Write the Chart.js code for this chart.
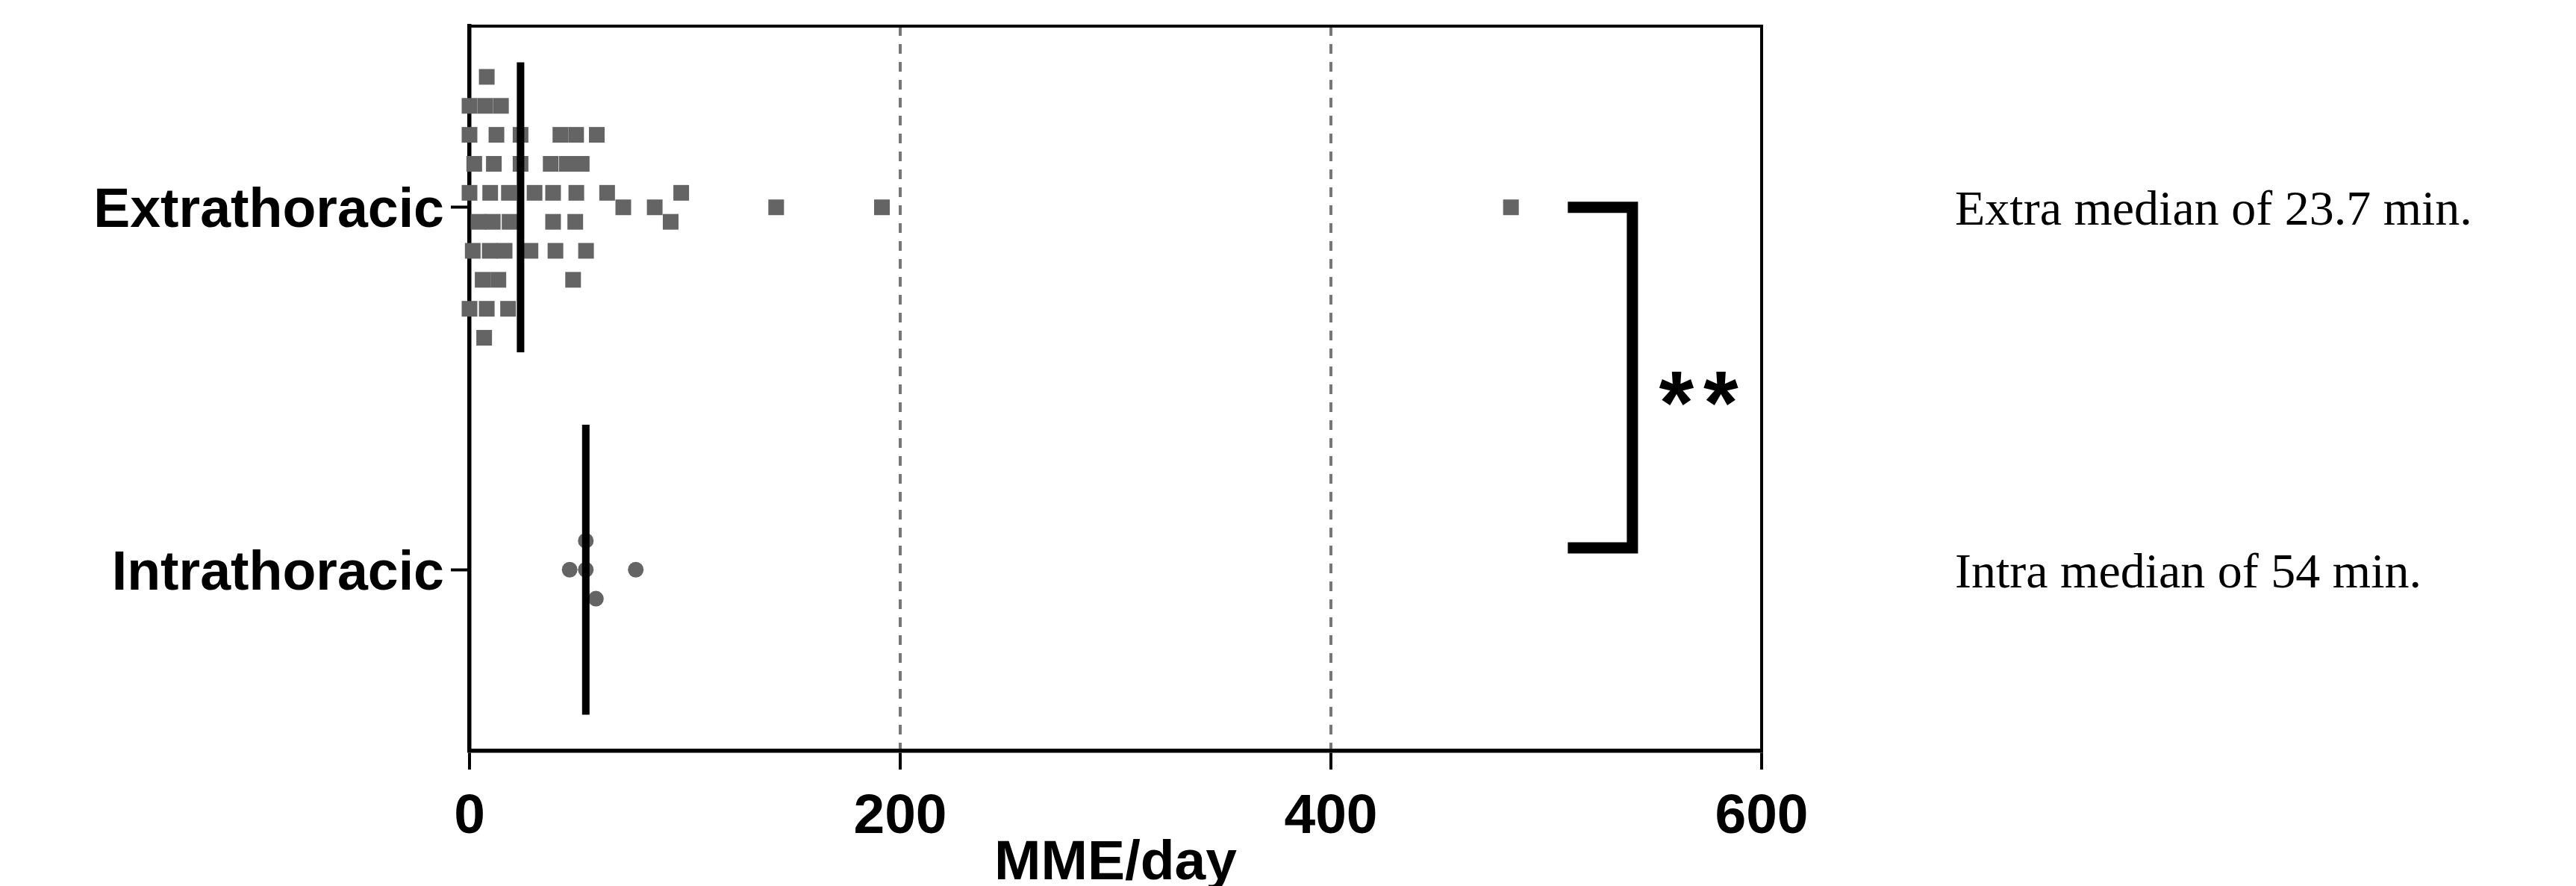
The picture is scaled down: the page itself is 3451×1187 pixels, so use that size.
<!DOCTYPE html>
<html>
<head>
<meta charset="utf-8">
<title>MME/day</title>
<script src="https://cdn.jsdelivr.net/npm/chart.js@4.4.1/dist/chart.umd.min.js"></script>
<style>
  html, body { margin: 0; padding: 0; background: #fff; }
</style>
</head>
<body>
<canvas id="mmeChart" width="3451" height="1187"></canvas>
<script>
const categories = ['Extrathoracic', 'Intrathoracic'];
const categoryY = [1.5, 0.5];
const xTicks = [0, 200, 400, 600];

// MME/day per patient, lane = row in the swarm (+ up, - down)
const extraValues = [
    8.0,
    0, 7.3, 14.6,
    0, 12.5, 23.7, 42.2, 49.5, 59.1,
    2.2, 11.3, 23.7, 37.7, 45.2, 52.1,
    0, 9.6, 18.3, 30.2, 38.8, 49.6, 63.9, 98.3,
    71.4, 86.0, 142.4, 191.5, 483.6,
    4.2, 10.8, 18.6, 38.8, 49.1, 93.4,
    1.5, 9.4, 16.3, 28.3, 39.9, 54.1,
    6.1, 13.4, 48.1,
    0, 8.0, 17.9,
    6.8
];
const extraLanes = [
    4.5,
    3.5, 3.5, 3.5,
    2.5, 2.5, 2.5, 2.5, 2.5, 2.5,
    1.5, 1.5, 1.5, 1.5, 1.5, 1.5,
    0.5, 0.5, 0.5, 0.5, 0.5, 0.5, 0.5, 0.5,
    0, 0, 0, 0, 0,
    -0.5, -0.5, -0.5, -0.5, -0.5, -0.5,
    -1.5, -1.5, -1.5, -1.5, -1.5, -1.5,
    -2.5, -2.5, -2.5,
    -3.5, -3.5, -3.5,
    -4.5
];
const intraValues = [54, 46.5, 54, 77.2, 58.7];
const intraLanes = [1, 0, 0, 0, -1];

const medians = [23.7, 54];
const medianNotes = ['Extra median of 23.7 min.', 'Intra median of 54 min.'];

// significance bracket between the groups
const bracketX = [510, 540];
const bracketY = [1.5, 0.56];
const significance = '**';
const sigPos = [573, 1.0];

const laneStep = 0.08;
const medianHalf = 0.4;
const dotColor = '#646464';
const sansFamily = '"Liberation Sans", Arial, Helvetica, sans-serif';
const boldFont = {family: sansFamily, size: 75, weight: 'bold'};

function swarm(values, lanes, cy) {
    return values.map((v, i) => ({x: v, y: cy + lanes[i] * laneStep}));
}

function medianLine(i) {
    return [
        {x: medians[i], y: categoryY[i] + medianHalf},
        {x: medians[i], y: categoryY[i] - medianHalf}
    ];
}

const bracketData = [
    {x: bracketX[0], y: bracketY[0]},
    {x: bracketX[1], y: bracketY[0]},
    {x: bracketX[1], y: bracketY[1]},
    {x: bracketX[0], y: bracketY[1]}
];

const notesPlugin = {
    id: 'notes',
    afterDraw(chart) {
        const {ctx, chartArea, scales} = chart;
        ctx.save();

        // top and right frame lines
        ctx.strokeStyle = '#000';
        ctx.lineWidth = 4;
        ctx.beginPath();
        ctx.moveTo(chartArea.left, chartArea.top);
        ctx.lineTo(chartArea.right, chartArea.top);
        ctx.lineTo(chartArea.right, chartArea.bottom);
        ctx.stroke();

        const sigSize = 120;
        ctx.fillStyle = '#000';
        ctx.font = 'bold ' + sigSize + 'px ' + sansFamily;
        ctx.letterSpacing = '13px';
        ctx.textAlign = 'center';
        ctx.textBaseline = 'alphabetic';
        ctx.fillText(significance, scales.x.getPixelForValue(sigPos[0]),
            scales.y.getPixelForValue(sigPos[1]) + 0.5 * sigSize);
        ctx.letterSpacing = '0px';

        ctx.font = '66px "Liberation Serif", "Times New Roman", serif';
        ctx.textAlign = 'left';
        ctx.textBaseline = 'middle';
        medianNotes.forEach((t, i) => {
            ctx.fillText(t, chartArea.right + 259, scales.y.getPixelForValue(categoryY[i]) + 6);
        });
        ctx.restore();
    }
};

new Chart(document.getElementById('mmeChart'), {
    type: 'scatter',
    data: {
        datasets: [
            {
                label: 'Extra median',
                data: medianLine(0),
                showLine: true,
                borderColor: '#000',
                borderWidth: 10,
                borderCapStyle: 'butt',
                pointRadius: 0,
                order: 0,
                clip: false
            },
            {
                label: 'Intra median',
                data: medianLine(1),
                showLine: true,
                borderColor: '#000',
                borderWidth: 10,
                borderCapStyle: 'butt',
                pointRadius: 0,
                order: 0,
                clip: false
            },
            {
                label: categories[0],
                data: swarm(extraValues, extraLanes, categoryY[0]),
                pointStyle: 'rect',
                pointRadius: 14.85,
                pointBackgroundColor: dotColor,
                pointBorderWidth: 0,
                order: 1,
                clip: false
            },
            {
                label: categories[1],
                data: swarm(intraValues, intraLanes, categoryY[1]),
                pointStyle: 'circle',
                pointRadius: 10.5,
                pointBackgroundColor: dotColor,
                pointBorderWidth: 0,
                order: 1,
                clip: false
            },
            {
                label: 'bracket',
                data: bracketData,
                showLine: true,
                borderColor: '#000',
                borderWidth: 15,
                borderJoinStyle: 'miter',
                borderCapStyle: 'butt',
                pointRadius: 0,
                order: 0,
                clip: false
            }
        ]
    },
    options: {
        responsive: false,
        devicePixelRatio: 1,
        animation: false,
        events: [],
        layout: {
            padding: {left: 0, right: 1091, top: 35, bottom: 0}
        },
        scales: {
            x: {
                type: 'linear',
                min: 0,
                max: 600,
                z: 1,
                afterBuildTicks: s => { s.ticks = xTicks.map(v => ({value: v})); },
                ticks: {
                    color: '#000',
                    font: boldFont,
                    padding: 19,
                    maxRotation: 0
                },
                grid: {
                    color: c => (c.tick && (c.tick.value === 0 || c.tick.value === 600)) ? 'rgba(0,0,0,0)' : '#777',
                    lineWidth: 4,
                    tickLength: 25,
                    tickWidth: 4,
                    tickColor: '#000'
                },
                border: {display: true, width: 5.5, color: '#000', dash: [13, 11]},
                title: {
                    display: true,
                    text: 'MME/day',
                    color: '#000',
                    font: Object.assign({}, boldFont, {lineHeight: 0.8}),
                    padding: {top: 0, bottom: 0}
                },
                afterFit: s => { s.height = 181; s.paddingLeft = 0; s.paddingRight = 0; }
            },
            y: {
                type: 'linear',
                min: 0,
                max: 2,
                z: 1,
                afterBuildTicks: s => { s.ticks = categoryY.map(v => ({value: v})); },
                ticks: {
                    color: '#000',
                    font: Object.assign({}, boldFont, {size: 73.5}),
                    padding: 9,
                    labelOffset: 6,
                    callback: v => categories[categoryY.indexOf(v)]
                },
                grid: {
                    drawOnChartArea: false,
                    tickLength: 25,
                    tickWidth: 4,
                    tickColor: '#000'
                },
                border: {display: true, width: 5.5, color: '#000'},
                afterFit: s => { s.width = 629; s.paddingTop = 0; s.paddingBottom = 0; }
            }
        },
        plugins: {
            legend: {display: false},
            tooltip: {enabled: false}
        }
    },
    plugins: [notesPlugin]
});
</script>
</body>
</html>
